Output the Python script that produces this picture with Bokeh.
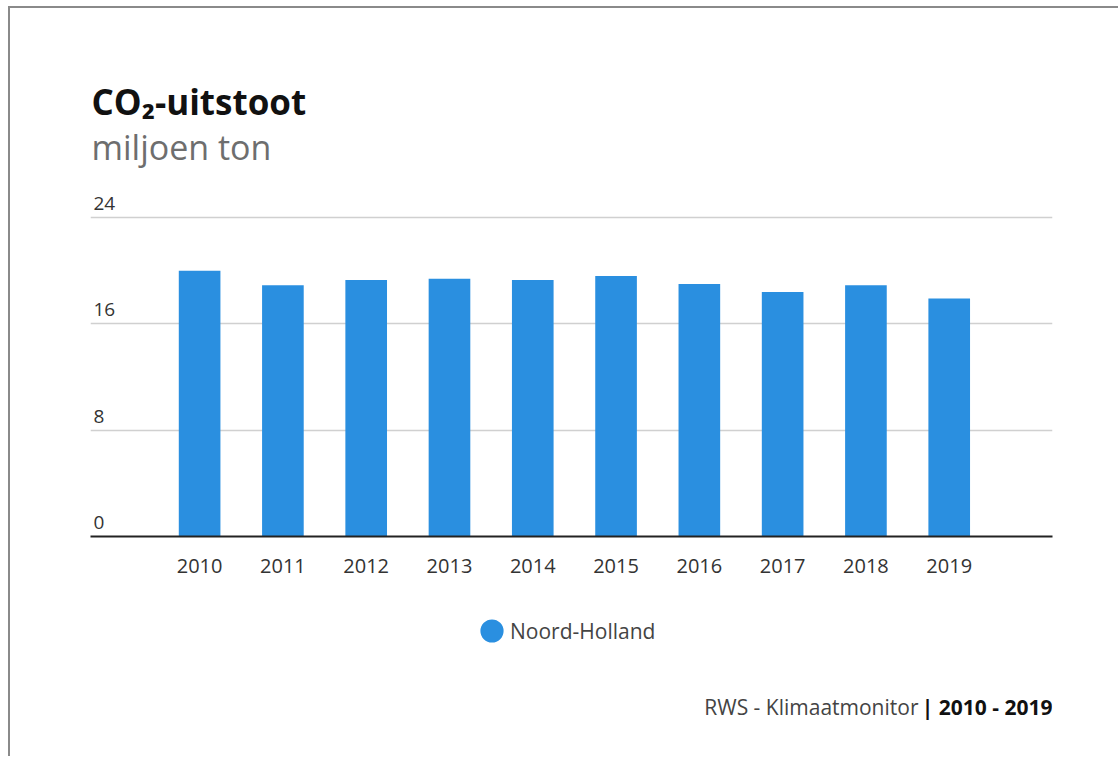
from bokeh.plotting import figure
from bokeh.layouts import column
from bokeh.models import Range1d, FixedTicker, Label, Legend, LegendItem, ColumnDataSource
from bokeh.embed import file_html
from bokeh.resources import INLINE

# ---- data ----
years = [2010, 2011, 2012, 2013, 2014, 2015, 2016, 2017, 2018, 2019]
co2 = [20.0, 18.9, 19.3, 19.4, 19.3, 19.6, 19.0, 18.4, 18.9, 17.9]
y_ticks = [0, 8, 16, 24]
series_name = "Noord-Holland"
title_text = "CO\u2082-uitstoot"
subtitle_text = "miljoen ton"
source_text = "RWS - Klimaatmonitor"
period_text = "| 2010 - 2019"

BLUE = "#2a8fe0"
FONT = "Open Sans"

W = 1108
H1, H2 = 590, 158
FB = 528  # frame bottom inside figure 1

# ---------- main chart ----------
p = figure(width=W, height=H1, output_backend="svg", toolbar_location=None,
           x_range=Range1d(2008.69, 2020.24), y_range=Range1d(0, FB / 13.29),
           min_border_left=80, min_border_right=W - 1042,
           min_border_top=0, min_border_bottom=H1 - FB)
p.title = None
p.outline_line_color = None
p.background_fill_color = "white"
p.border_fill_color = "white"

src = ColumnDataSource(dict(year=years, value=co2))
p.vbar(x="year", top="value", width=0.5, source=src, fill_color=BLUE, line_color=None)

p.yaxis.visible = False
p.xaxis.ticker = FixedTicker(ticks=years)
p.xaxis.axis_line_color = "#222222"
p.xaxis.axis_line_width = 2
p.xaxis.major_tick_line_color = None
p.xaxis.minor_tick_line_color = None
p.xaxis.major_label_standoff = 16
p.xaxis.major_label_text_font = FONT
p.xaxis.major_label_text_font_size = "20px"
p.xaxis.major_label_text_color = "#333333"

p.xgrid.visible = False
p.ygrid.ticker = FixedTicker(ticks=y_ticks)
p.ygrid.grid_line_color = "#d0d0d0"
p.ygrid.grid_line_width = 1.5

for t in y_ticks:
    p.add_layout(Label(x=3, y=t, x_units="screen", y_units="data", y_offset=14,
                       text=str(t), text_font=FONT, text_font_size="19px",
                       text_color="#333333", text_baseline="alphabetic", text_align="left"))

p.add_layout(Label(x=1, y=435, x_units="screen", y_units="screen", text=title_text,
                   text_font=FONT, text_font_size="35px", text_font_style="bold",
                   text_color="#111111", text_baseline="alphabetic"))
p.add_layout(Label(x=1, y=390, x_units="screen", y_units="screen", text=subtitle_text,
                   text_font=FONT, text_font_size="34px",
                   text_color="#6e6e6e", text_baseline="alphabetic"))

# ---------- legend + footer ----------
q = figure(width=W, height=H2, output_backend="svg", toolbar_location=None,
           x_range=Range1d(0, 1), y_range=Range1d(0, 1),
           x_axis_location=None, y_axis_location=None,
           min_border_left=80, min_border_right=W - 1042, min_border_top=0, min_border_bottom=0)
q.title = None
q.outline_line_color = None
q.xgrid.visible = False
q.ygrid.visible = False
q.background_fill_color = "white"
q.border_fill_color = "white"

nan = float("nan")
r_leg = q.ellipse(x=[nan], y=[nan], width=10, height=10, width_units="screen",
                  height_units="screen", fill_color=BLUE, line_color=None)
legend = Legend(items=[LegendItem(label=series_name, renderers=[r_leg])],
                location=(387, 111), orientation="horizontal",
                glyph_width=29, glyph_height=29, label_height=29, label_standoff=4,
                padding=0, margin=0, spacing=0,
                border_line_color=None, background_fill_alpha=0,
                label_text_font=FONT, label_text_font_size="21px",
                label_text_color="#444444")
q.add_layout(legend, "center")

q.add_layout(Label(x=828, y=50, x_units="screen", y_units="screen", text=source_text,
                   text_font=FONT, text_font_size="21px", text_color="#444444",
                   text_baseline="alphabetic", text_align="right"))
q.add_layout(Label(x=962, y=50, x_units="screen", y_units="screen", text=period_text,
                   text_font=FONT, text_font_size="21px", text_font_style="bold",
                   text_color="#111111", text_baseline="alphabetic", text_align="right"))

root = column(p, q, margin=(6, 0, 0, 8),
              styles={"border-top": "2px solid #8a8a8a", "border-left": "2px solid #8a8a8a"})

open("out.html", "w").write(file_html(root, INLINE))
